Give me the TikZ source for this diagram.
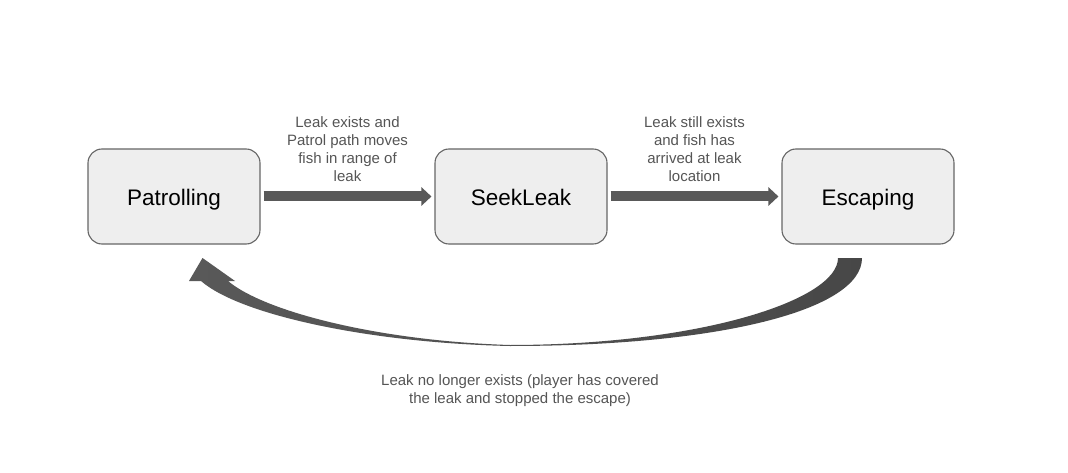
\documentclass[tikz,border=0pt]{standalone}
\usepackage{fontspec}
\setmainfont{Liberation Sans}
\usetikzlibrary{arrows.meta}
\definecolor{boxfill}{HTML}{EEEEEE}
\definecolor{boxline}{HTML}{666666}
\definecolor{arrowgray}{HTML}{595959}
\definecolor{labelgray}{HTML}{555555}
\tikzset{
  statebox/.style={draw=boxline, line width=1.1pt, fill=boxfill, rounded corners=14pt,
    minimum width=172pt, minimum height=95pt, inner sep=0pt,
    text height=19pt, text depth=0pt,
    font=\fontsize{22.5}{27}\selectfont, text=black},
  fatarrow/.style={draw=arrowgray, line width=10pt, shorten <=3pt, shorten >=3pt,
    -{Triangle[length=10pt,width=18pt]}},
  edgelabel/.style={align=center, text=labelgray, inner sep=0pt, text depth=0pt,
    font=\fontsize{15}{18}\selectfont}
}
\begin{document}
\begin{tikzpicture}[x=1pt,y=-1pt]
\useasboundingbox (0,0) rectangle (1068,473);
\fill[white] (0,0) rectangle (1068,473);
\node[statebox] (p) at (174,196.5) {Patrolling};
\node[statebox] (s) at (521,196.5) {SeekLeak};
\node[statebox] (e) at (868,196.5) {Escaping};
\draw[fatarrow] (p.east) -- (s.west);
\draw[fatarrow] (s.east) -- (e.west);
\node[edgelabel, anchor=south] (l1) at (347.5,182) {Leak exists and\\Patrol path moves\\fish in range of\\leak};
\node[edgelabel, anchor=south] (l2) at (694.5,182) {Leak still exists\\and fish has\\arrived at leak\\location};
% curved return arrow from Escaping to Patrolling
\shade[left color=arrowgray, right color=arrowgray!80!black]
  (862,258) .. controls (862,310) and (720,346) .. (510,346)
  .. controls (370,343) and (240,315) .. (201,281)
  -- (189,281) -- (202.5,258) -- (235,281) -- (228,281)
  .. controls (265,312) and (380,341) .. (510,345)
  .. controls (700,344.8) and (838,300) .. (838,258) -- cycle;
\node[edgelabel, anchor=south] (l3) at (520,403.5) {Leak no longer exists (player has covered\\the leak and stopped the escape)};
\end{tikzpicture}
\end{document}
